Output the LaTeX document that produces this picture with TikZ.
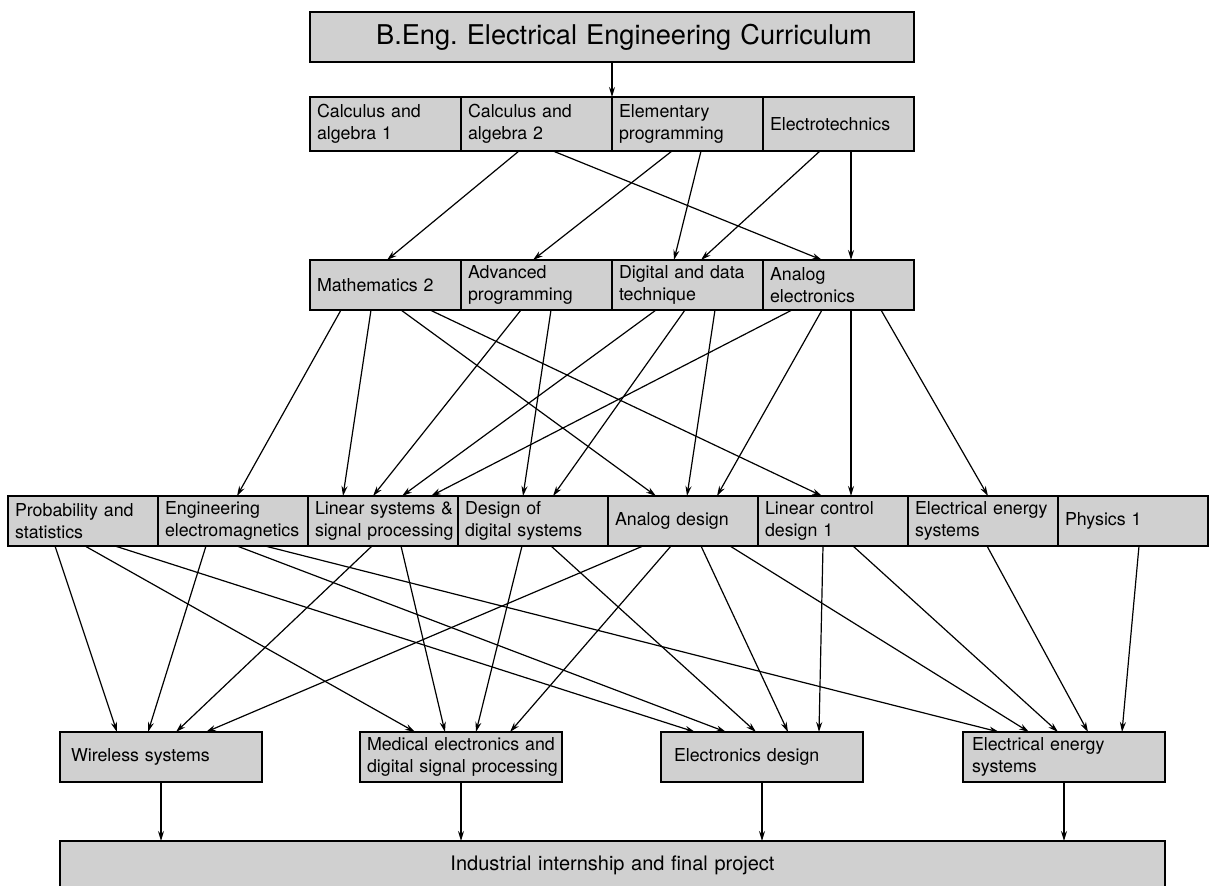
\documentclass[tikz,border=0pt]{standalone}
\usepackage{fontspec}
\setmainfont{TeX Gyre Heros}
\usetikzlibrary{arrows.meta}
\definecolor{boxgray}{RGB}{208,208,208}
\hyphenpenalty=10000
\exhyphenpenalty=10000
\frenchspacing
\newcommand\boxfont{\fontsize{8.9}{11}\selectfont}
\newcommand\lnk[4]{\draw[arr] (#1.south -| #2,0) -- (#3.north -| #4,0);}
\tikzset{
  cbox/.style={draw=black, line width=0.9pt, fill=boxgray, anchor=north west,
    inner xsep=3.5pt, inner ysep=0pt, outer sep=0pt, align=left, font=\boxfont},
  rowa/.style={cbox, text width=68.5pt, minimum height=27pt},
  rowb/.style={cbox, text width=68.5pt, minimum height=25pt},
  rowc/.style={cbox, text width=68pt, minimum height=25pt},
  rowd/.style={cbox, minimum height=25pt},
  arr/.style={-{Stealth[length=5pt,width=3pt]}, line width=0.6pt, draw=black},
}
\begin{document}
\begin{tikzpicture}[x=0.5pt,y=-0.5pt]
\useasboundingbox (0,0) rectangle (1210,886);
% title
\node[cbox, align=center, text width=295pt, minimum height=25pt,
  font=\fontsize{13.6}{16}\selectfont] (title) at (310,12)
  {\hspace*{12pt}B.Eng. Electrical Engineering Curriculum};
% row 1
\node[rowa] (calc1) at (310,97) {Calculus~and\\algebra~1};
\node[rowa] (calc2) at (461,97) {Calculus~and\\algebra~2};
\node[rowa] (elem)  at (612,97) {Elementary\\programming};
\node[rowa] (etech) at (763,97) {Electrotechnics};
% row 2
\node[rowb] (math2)   at (310,260) {Mathematics~2};
\node[rowb] (advprog) at (461,260) {Advanced\\programming};
\node[rowb] (digital) at (612,260) {Digital~and~data\\technique};
\node[rowb] (analel)  at (763,260) {Analog\\electronics};
% row 3
\node[rowc] (prob)     at (8,496)    {Probability~and\\statistics};
\node[rowc] (engem)    at (158,496)  {Engineering\\electromagnetics};
\node[rowc] (linsys)   at (308,496)  {Linear~systems~\&\\signal~processing};
\node[rowc] (desdig)   at (458,496)  {Design~of\\digital~systems};
\node[rowc] (analdes)  at (608,496)  {Analog~design};
\node[rowc] (lincon)   at (758,496)  {Linear~control\\design~1};
\node[rowc] (eenergyc) at (908,496)  {Electrical~energy\\systems};
\node[rowc] (phys)     at (1058,496) {Physics~1};
% row 4
\node[rowd, inner xsep=5.5pt, text width=90pt] (wireless) at (60,732) {Wireless~systems};
\node[rowd, inner xsep=3.5pt, text width=94pt] (medical)  at (360,732) {Medical~electronics~and\\digital~signal~processing};
\node[rowd, inner xsep=6.5pt, text width=88pt] (electr)   at (661,732) {Electronics~design};
\node[rowd, inner xsep=4.5pt, text width=92pt] (energyd)  at (963,732) {Electrical~energy\\systems};
% bottom
\node[cbox, align=center, text width=545.5pt, minimum height=24pt,
  font=\fontsize{10}{12}\selectfont] (final) at (60,841)
  {Industrial internship and final project};
% title -> row 1
\draw[arr] (title.south) -- (title.south |- elem.north);
% row 1 -> row 2
\lnk{calc2}{519}{math2}{387}
\lnk{calc2}{553}{analel}{822}
\lnk{elem}{672}{advprog}{533}
\lnk{elem}{701}{digital}{674}
\lnk{etech}{820}{digital}{701}
\lnk{etech}{851}{analel}{851}
% row 2 -> row 3
\lnk{math2}{341}{engem}{237}
\lnk{math2}{371}{linsys}{343}
\lnk{math2}{401}{analdes}{656}
\lnk{math2}{430}{lincon}{822}
\lnk{advprog}{521}{linsys}{373}
\lnk{advprog}{551}{desdig}{523}
\lnk{digital}{656}{linsys}{402}
\lnk{digital}{685}{desdig}{553}
\lnk{digital}{715}{analdes}{687}
\lnk{analel}{792}{linsys}{431}
\lnk{analel}{822}{analdes}{717}
\lnk{analel}{851}{lincon}{851}
\lnk{analel}{881}{eenergyc}{988}
% row 3 -> row 4
\lnk{prob}{55}{wireless}{117}
\lnk{prob}{85}{medical}{415}
\lnk{prob}{115}{electr}{695}
\lnk{engem}{206}{wireless}{148}
\lnk{engem}{237}{electr}{726}
\lnk{engem}{265}{energyd}{999}
\lnk{linsys}{372}{wireless}{176}
\lnk{linsys}{401}{medical}{445}
\lnk{desdig}{522}{medical}{476}
\lnk{desdig}{551}{electr}{756}
\lnk{analdes}{643}{wireless}{206}
\lnk{analdes}{671}{medical}{510}
\lnk{analdes}{701}{electr}{788}
\lnk{analdes}{730}{energyd}{1029}
\lnk{lincon}{823}{electr}{819}
\lnk{lincon}{853}{energyd}{1058}
\lnk{eenergyc}{987}{energyd}{1088}
\lnk{phys}{1139}{energyd}{1122}
% row 4 -> final
\draw[arr] (wireless.south) -- (wireless.south |- final.north);
\draw[arr] (medical.south) -- (medical.south |- final.north);
\draw[arr] (electr.south) -- (electr.south |- final.north);
\draw[arr] (energyd.south) -- (energyd.south |- final.north);
\end{tikzpicture}
\end{document}
